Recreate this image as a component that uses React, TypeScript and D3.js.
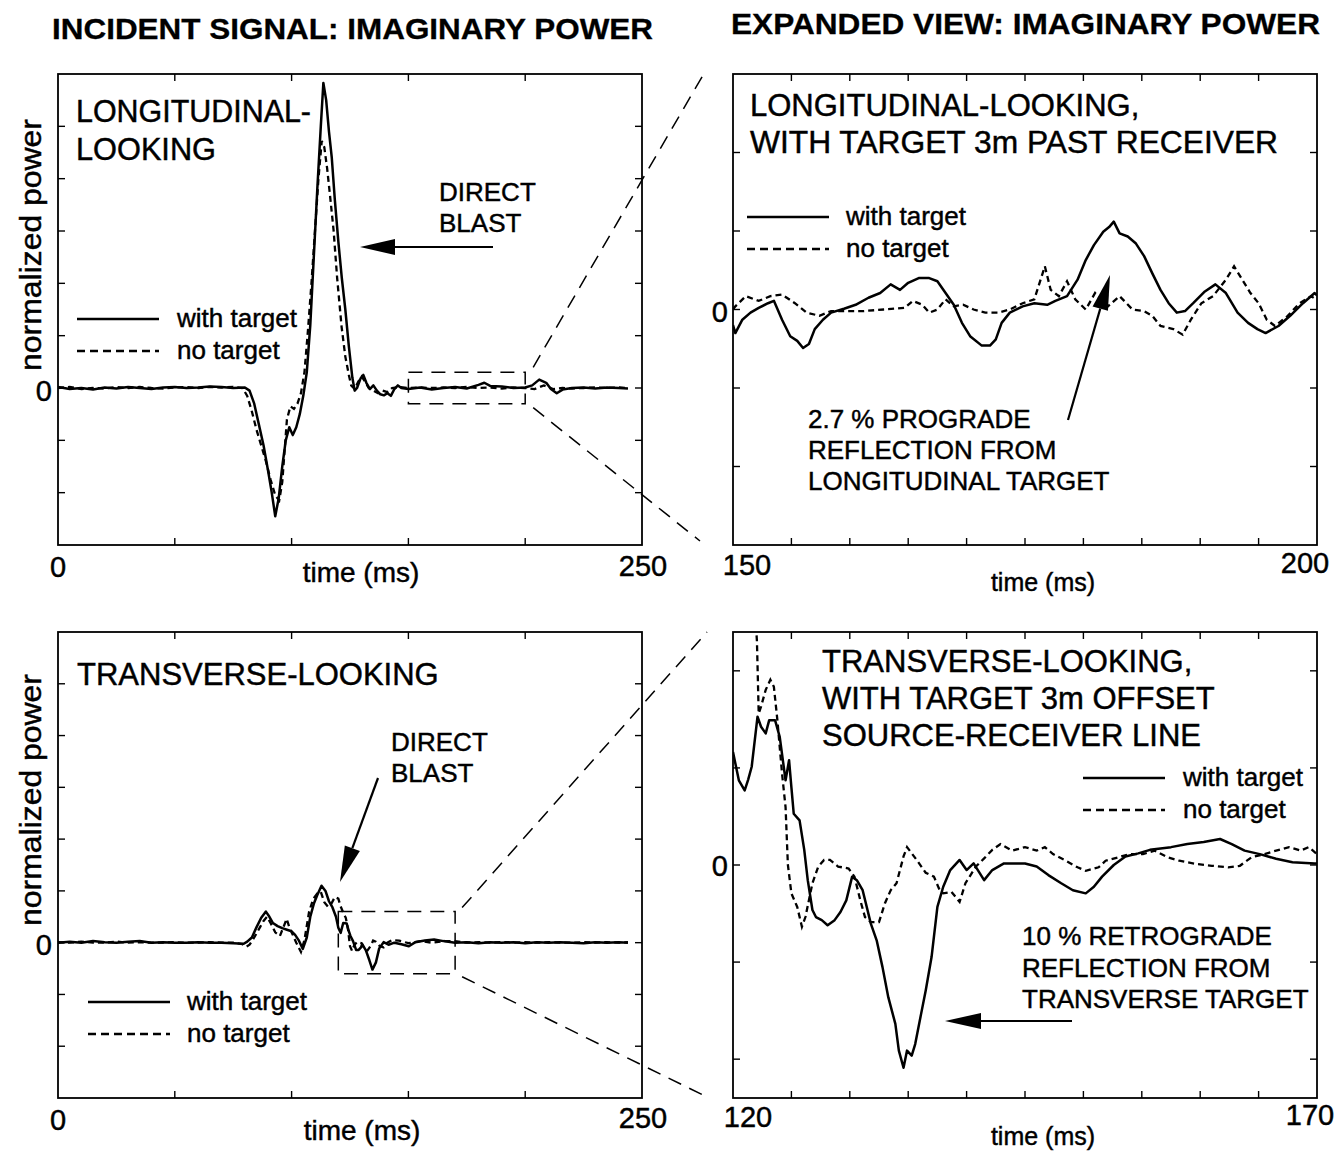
import React from 'react';
import * as d3 from 'd3';

const FONT = "'Liberation Sans', Arial, Helvetica, sans-serif";

// ---------- DATA (time ms, normalized power) ----------
const tlWithTarget: [number, number][] = [
  [0,0.02],[5,-0.02],[10,0.0],[15,-0.03],[20,0.01],[25,-0.01],[30,0.02],[35,0.0],[40,-0.02],[45,0.01],[50,0.02],[55,0.0],[60,0.01],[65,0.03],[70,0.02],[75,0.0],[80,0.01],
  [82,-0.05],[84,-0.3],[86,-0.7],[88,-1.1],[90,-1.6],[91.5,-2.0],[93,-2.45],[94.5,-2.1],[96,-1.5],[97.5,-1.0],[99,-0.75],[100.5,-0.9],[102,-0.75],[103.5,-0.5],[105,-0.15],[106.5,0.3],
  [108,1.2],[109.5,2.5],[111,3.8],[112.5,5.0],[113.6,5.83],[114.8,5.5],[116,4.9],[117.2,4.4],[118.5,3.6],[120,2.8],[121.5,2.1],[123,1.5],[124.5,0.8],[126,0.2],[127,-0.05],
  [128,0.0],[129.5,0.18],[130.7,0.25],[132,0.1],[133.5,-0.02],[135,0.05],[136.5,-0.05],[138,-0.12],[139.5,-0.14],[141,-0.1],[142.5,-0.15],[144,-0.02],[145.5,0.05],[147,0.0],
  [150,-0.02],[155,0.01],[160,-0.03],[165,0.0],[170,0.02],[175,-0.01],[180,0.06],[182.5,0.1],[185,0.04],[190,0.03],[195,0.0],[200,0.01],[203,0.05],[206,0.16],[209,0.1],
  [211,-0.02],[213.5,-0.1],[216,-0.03],[220,0.0],[225,0.01],[230,-0.01],[235,0.01],[240,0.0],[244,-0.01]
];
const tlNoTarget: [number, number][] = [
  [0,0.0],[5,0.02],[10,-0.02],[15,0.0],[20,-0.01],[25,0.02],[30,0.0],[35,0.02],[40,0.0],[45,-0.01],[50,0.01],[55,0.02],[60,0.0],[65,0.02],[70,0.01],[75,0.02],[79,0.0],
  [81,-0.15],[83,-0.45],[85,-0.8],[87,-1.1],[89,-1.4],[91,-1.75],[93,-2.05],[94.7,-2.15],[96,-1.8],[97,-1.2],[98,-0.6],[99.5,-0.35],[101,-0.4],[102.5,-0.3],[104,-0.1],
  [105.5,0.3],[107,1.1],[108.5,2.0],[110,3.0],[111.5,4.0],[112.9,4.72],[114,4.6],[115.2,4.2],[116.4,3.7],[118,3.0],[119.5,2.1],[121.4,1.17],[123,0.6],[124.5,0.25],[125.5,0.05],
  [127,-0.02],[128.5,0.12],[130,0.22],[131.5,0.12],[133,0.0],[135,-0.05],[137,-0.1],[139,-0.05],[141,-0.08],[143,0.0],[146,0.02],[150,0.0],[155,0.01],[160,0.0],[165,0.01],
  [170,0.0],[175,0.02],[180,0.0],[185,0.01],[190,-0.01],[195,0.01],[200,0.0],[204,-0.02],[208,0.05],[212,-0.02],[216,0.0],[220,-0.01],[225,0.0],[230,0.01],[235,0.0],[240,0.01],[244,0.0]
];

const trWithTarget: [number, number][] = [
  [150.0,-0.02],[150.2,-0.030],[150.8,-0.013],[151.5,-0.004],[152.2,0.002],[153.0,0.008],[153.5,0.011],[154.2,-0.013],[154.9,-0.034],[155.5,-0.04],[156.0,-0.049],[156.5,-0.044],
  [157.0,-0.025],[157.7,-0.013],[158.4,-0.004],[159.5,0.001],[160.5,0.006],[161.6,0.015],[162.6,0.021],[163.5,0.032],[164.3,0.025],[165.0,0.034],[165.9,0.040],[166.8,0.040],
  [167.5,0.036],[168.2,0.021],[168.9,0.006],[169.6,-0.017],[170.3,-0.034],[171.3,-0.046],[172.0,-0.046],[172.5,-0.038],[173.0,-0.017],[173.7,-0.004],[174.8,0.004],[175.8,0.008],
  [176.9,0.006],[177.6,0.011],[178.6,0.017],[179.5,0.038],[180.2,0.063],[180.9,0.082],[181.7,0.099],[182.2,0.105],[182.6,0.112],[183.1,0.097],[183.8,0.093],[184.5,0.084],
  [185.2,0.068],[185.9,0.046],[186.6,0.025],[187.3,0.008],[188.0,-0.004],[188.7,-0.002],[189.4,0.008],[190.4,0.023],[191.3,0.032],[192.2,0.021],[193.2,-0.004],[194.1,-0.017],
  [194.9,-0.025],[195.6,-0.030],[196.7,-0.021],[197.7,-0.008],[198.8,0.008],[199.8,0.021],[200,0.018]
];
const trNoTarget: [number, number][] = [
  [150.0,0.0],[150.2,0.004],[151.1,0.017],[152.2,0.011],[153.2,0.017],[154.2,0.019],[155.3,0.008],[156.3,-0.004],[157.4,-0.008],[158.4,-0.002],[159.5,-0.002],[161.2,-0.002],
  [162.9,0.000],[164.7,0.002],[165.4,0.011],[166.2,0.006],[166.8,-0.004],[167.5,0.000],[168.2,0.013],[168.9,0.004],[169.7,0.006],[170.6,0.000],[171.6,-0.004],[172.7,-0.004],
  [173.7,0.000],[174.8,0.008],[175.8,0.013],[176.7,0.055],[177.2,0.025],[177.9,0.017],[178.6,0.036],[179.3,0.013],[180.2,0.000],[181.0,0.021],[182.1,0.004],[183.1,0.017],
  [184.2,0.000],[185.2,-0.002],[185.9,-0.008],[186.6,-0.021],[187.7,-0.025],[188.5,-0.032],[189.2,-0.013],[190.1,0.008],[191.1,0.017],[192.2,0.038],[192.9,0.055],[193.6,0.038],
  [194.3,0.021],[195.0,0.008],[195.7,-0.013],[196.4,-0.021],[197.5,-0.008],[198.5,0.008],[199.5,0.017],[200,0.012]
];

const blWithTarget: [number, number][] = [
  [0,0.0],[5,0.02],[10,0.0],[15,0.03],[20,0.01],[25,0.0],[30,0.02],[35,0.03],[40,0.0],[45,0.01],[50,0.0],[55,0.0],[60,0.01],[65,0.0],[70,0.0],[75,-0.01],[79.5,-0.02],
  [81,0.02],[83,0.1],[85,0.3],[87,0.48],[89,0.6],[90.5,0.5],[92,0.38],[94,0.32],[96,0.28],[98,0.25],[100,0.22],[101.5,0.15],[103,0.05],[104.8,-0.12],[106.5,0.1],[108,0.5],
  [109.5,0.75],[111,0.92],[112.8,1.1],[114.5,1.0],[116,0.8],[117.5,0.68],[119,0.5],[120,0.29],[121,0.19],[122.1,0.38],[123.6,0.37],[124.5,0.22],[125.2,0.13],[126.3,0.03],
  [127.6,-0.14],[128.7,-0.14],[129.7,-0.09],[130.2,-0.03],[131.8,-0.15],[133.3,-0.34],[134.6,-0.52],[136.1,-0.38],[137.5,-0.11],[139.4,0.01],[141.5,-0.04],[144,0.0],
  [147,-0.03],[150.2,-0.07],[153,0.01],[157,0.04],[161,0.06],[165,0.03],[170,0.0],[175,0.01],[180,-0.01],[185,0.01],[190,0.0],[195,0.01],[200,-0.01],[205,0.01],[210,0.0],
  [215,0.01],[220,0.0],[225,-0.01],[230,0.01],[235,0.0],[240,0.01],[244,0.0]
];
const blNoTarget: [number, number][] = [
  [0,0.01],[5,0.0],[10,0.02],[15,0.0],[20,0.0],[25,0.02],[30,0.0],[35,0.01],[40,0.0],[45,0.0],[50,0.01],[55,0.0],[60,0.0],[65,0.01],[70,0.0],[75,0.0],[79,-0.03],
  [80.5,-0.08],[82,-0.04],[84,0.1],[86.5,0.3],[88,0.42],[89.5,0.5],[91,0.38],[93,0.2],[95,0.13],[96.5,0.3],[97.9,0.46],[99,0.3],[100.5,0.15],[102,0.0],[104,-0.18],
  [105.5,0.05],[107.5,0.6],[109.3,0.85],[111,0.95],[112.5,0.98],[114,0.78],[115.5,0.7],[117,0.75],[118.5,0.88],[120,0.85],[121,0.7],[122.1,0.58],[123.2,0.48],[124.2,0.24],
  [125,-0.07],[125.9,-0.16],[126.8,-0.05],[128,0.01],[130,-0.01],[131.3,-0.13],[132.5,-0.15],[134,-0.05],[134.9,0.04],[136,0.02],[137.7,-0.065],[139.4,-0.09],[141,0.0],
  [143,0.05],[146,0.04],[150,-0.01],[155,0.03],[160,0.0],[165,0.03],[170,0.03],[175,0.0],[180,0.01],[185,0.0],[190,0.01],[195,0.0],[200,0.01],[205,0.0],[210,0.01],
  [215,0.0],[220,0.0],[225,0.01],[230,0.0],[235,0.01],[240,0.0],[244,0.01]
];

const brWithTarget: [number, number][] = [
  [120,0.291],[120.5,0.218],[121.0,0.192],[121.3,0.22],[121.6,0.253],[122.1,0.382],[122.4,0.356],[122.8,0.339],[123.1,0.373],[123.6,0.373],[124.0,0.330],[124.5,0.218],
  [124.8,0.27],[125.0,0.2],[125.2,0.132],[125.7,0.115],[126.1,0.039],[126.4,-0.039],[126.8,-0.116],[127.1,-0.134],[127.6,-0.142],[128.1,-0.155],[128.7,-0.142],[129.2,-0.121],
  [129.7,-0.091],[130.2,-0.030],[130.6,-0.039],[131.1,-0.065],[131.8,-0.151],[132.3,-0.194],[132.8,-0.263],[133.3,-0.341],[133.9,-0.409],[134.2,-0.478],[134.6,-0.522],
  [134.9,-0.478],[135.3,-0.491],[135.6,-0.461],[136.1,-0.384],[136.5,-0.323],[137.0,-0.237],[137.5,-0.108],[138.0,-0.056],[138.6,-0.013],[139.4,0.013],[140.0,-0.013],
  [140.6,0.004],[141.5,-0.039],[142.2,-0.013],[143.2,0.004],[143.9,0.004],[145.0,0.004],[146.0,-0.004],[147.0,-0.026],[148.1,-0.047],[149.1,-0.065],[150.2,-0.073],
  [150.9,-0.056],[151.6,-0.030],[152.6,0.0],[153.6,0.022],[154.7,0.030],[155.7,0.039],[157.5,0.046],[158.9,0.054],[160.3,0.059],[161.7,0.067],[162.7,0.054],[163.8,0.037],
  [165.1,0.028],[166.5,0.016],[167.9,0.007],[169.8,0.004],[170,0.004]
];
const brNoTarget: [number, number][] = [
  [120,0.92],[121,0.8],[121.9,0.65],[122.05,0.576],[122.2,0.39],[122.4,0.408],[122.8,0.451],[123.2,0.477],[123.5,0.459],[123.8,0.373],[124.2,0.235],[124.5,0.149],
  [124.7,0.0],[125.0,-0.073],[125.5,-0.108],[125.9,-0.159],[126.2,-0.134],[126.8,-0.047],[127.3,-0.004],[127.8,0.013],[128.3,0.013],[129.0,-0.004],[129.9,-0.009],
  [130.4,-0.030],[130.9,-0.091],[131.3,-0.134],[131.8,-0.147],[132.5,-0.147],[133.0,-0.099],[133.5,-0.065],[134.0,-0.047],[134.6,0.022],[134.9,0.046],[135.3,0.03],
  [135.8,0.01],[136.5,-0.02],[137.2,-0.030],[137.7,-0.065],[138.0,-0.073],[138.7,-0.069],[139.4,-0.095],[139.9,-0.047],[140.8,-0.004],[141.5,0.017],[142.2,0.039],
  [142.9,0.054],[143.9,0.037],[145.0,0.046],[146.0,0.037],[146.7,0.046],[147.4,0.028],[148.5,0.011],[149.5,-0.006],[150.2,-0.015],[151.3,-0.006],[151.9,0.011],
  [153.0,0.020],[154.0,0.028],[155.1,0.028],[156.1,0.037],[157.2,0.020],[158.2,0.011],[159.6,0.003],[161.0,-0.002],[162.4,-0.006],[163.4,-0.002],[164.4,0.020],
  [165.5,0.028],[166.5,0.037],[167.6,0.046],[168.6,0.037],[169.3,0.046],[170,0.028]
];

// ---------- AXES ----------
const fullXDomain = [0, 250];
const fullYDomain = [-3, 6];
const fullXTicks = [0, 50, 100, 150, 200, 250];
const fullYTicks = [-3, -2, -1, 0, 1, 2, 3, 4, 5, 6];
const trXDomain = [150, 200];
const trYDomain = [-0.3, 0.3];
const trXTicks = [150, 155, 160, 165, 170, 175, 180, 185, 190, 195, 200];
const trYTicks = [-0.3, -0.2, -0.1, 0, 0.1, 0.2, 0.3];
const brXDomain = [120, 170];
const brYDomain = [-0.6, 0.6];
const brXTicks = [120, 125, 130, 135, 140, 145, 150, 155, 160, 165, 170];
const brYTicks = [-0.5, -0.25, 0, 0.25, 0.5];
const tlZoomWindow = { t0: 150, t1: 200, v: 0.3 };
const blZoomWindow = { t0: 120, t1: 170, v: 0.6 };

type Box = { x0: number; x1: number; y0: number; y1: number };
const BOX_TL: Box = { x0: 58, x1: 642, y0: 74, y1: 545 };
const BOX_TR: Box = { x0: 733, x1: 1317, y0: 74, y1: 545 };
const BOX_BL: Box = { x0: 58, x1: 642, y0: 632, y1: 1098 };
const BOX_BR: Box = { x0: 733, x1: 1317, y0: 632, y1: 1098 };

function scales(box: Box, xd: number[], yd: number[]) {
  const x = d3.scaleLinear().domain(xd).range([box.x0, box.x1]);
  const y = d3.scaleLinear().domain(yd).range([box.y1, box.y0]);
  return { x, y };
}

function T(props: any) {
  const { x, y, size = 26, anchor = 'start', weight = 'normal', len, children, transform } = props;
  return (
    <text x={x} y={y} fontSize={size} fontFamily={FONT} textAnchor={anchor} fontWeight={weight}
      fill="#000" stroke="#000" strokeWidth={weight === 'bold' ? 0.3 : 0.45} transform={transform}
      {...(len ? { textLength: len, lengthAdjust: 'spacingAndGlyphs' } : {})}>{children}</text>
  );
}

function Arrow({ x1, y1, x2, y2, head = 34, half = 8 }: any) {
  const dx = x2 - x1, dy = y2 - y1;
  const L = Math.hypot(dx, dy);
  const ux = dx / L, uy = dy / L;
  const bx = x2 - ux * head, by = y2 - uy * head;
  const nx = -uy, ny = ux;
  return (
    <g>
      <line x1={x1} y1={y1} x2={bx} y2={by} stroke="#000" strokeWidth={2.2} />
      <polygon points={`${x2},${y2} ${bx + nx * half},${by + ny * half} ${bx - nx * half},${by - ny * half}`} fill="#000" />
    </g>
  );
}

function Panel({ id, box, xd, yd, xt, yt, solid, dashed }: any) {
  const { x, y } = scales(box, xd, yd);
  const line = d3.line<[number, number]>().x(d => x(d[0])).y(d => y(d[1]));
  const tl = 7;
  const xIn = xt.filter((v: number) => v !== xd[0] && v !== xd[1]);
  const yIn = yt.filter((v: number) => v !== yd[0] && v !== yd[1]);
  return (
    <g>
      <defs>
        <clipPath id={id}><rect x={box.x0} y={box.y0} width={box.x1 - box.x0} height={box.y1 - box.y0} /></clipPath>
      </defs>
      <g clipPath={`url(#${id})`}>
        <path d={line(dashed) || ''} fill="none" stroke="#000" strokeWidth={2.3} strokeDasharray="6,4" />
        <path d={line(solid) || ''} fill="none" stroke="#000" strokeWidth={2.5} strokeLinejoin="round" />
      </g>
      <rect x={box.x0} y={box.y0} width={box.x1 - box.x0} height={box.y1 - box.y0} fill="none" stroke="#000" strokeWidth={1.8} />
      {xIn.map((v: number) => (
        <g key={'x' + v}>
          <line x1={x(v)} x2={x(v)} y1={box.y1} y2={box.y1 - tl} stroke="#000" strokeWidth={1.4} />
          <line x1={x(v)} x2={x(v)} y1={box.y0} y2={box.y0 + tl} stroke="#000" strokeWidth={1.4} />
        </g>
      ))}
      {yIn.map((v: number) => (
        <g key={'y' + v}>
          <line x1={box.x0} x2={box.x0 + tl} y1={y(v)} y2={y(v)} stroke="#000" strokeWidth={1.4} />
          <line x1={box.x1} x2={box.x1 - tl} y1={y(v)} y2={y(v)} stroke="#000" strokeWidth={1.4} />
        </g>
      ))}
    </g>
  );
}

function Legend({ x, y, textX }: any) {
  return (
    <g>
      <line x1={x} x2={x + 82} y1={y} y2={y} stroke="#000" strokeWidth={2.5} />
      <line x1={x} x2={x + 82} y1={y + 32} y2={y + 32} stroke="#000" strokeWidth={2.3} strokeDasharray="8,5" />
      <T x={textX} y={y + 8} size={26}>with target</T>
      <T x={textX} y={y + 40} size={26}>no target</T>
    </g>
  );
}

export default function App() {
  const tl = scales(BOX_TL, fullXDomain, fullYDomain);
  const bl = scales(BOX_BL, fullXDomain, fullYDomain);

  const tlBox = { x0: tl.x(tlZoomWindow.t0), x1: tl.x(tlZoomWindow.t1), y0: tl.y(tlZoomWindow.v), y1: tl.y(-tlZoomWindow.v) };
  const blBox = { x0: bl.x(blZoomWindow.t0), x1: bl.x(blZoomWindow.t1), y0: bl.y(blZoomWindow.v), y1: bl.y(-blZoomWindow.v) };
  const dash = { stroke: '#000', strokeWidth: 1.5, strokeDasharray: '14,9', fill: 'none' };

  return (
    <svg width={1338} height={1152} style={{ position: 'absolute', left: 0, top: 0, background: '#fff' }}>
      <rect x={0} y={0} width={1338} height={1152} fill="#fff" />
      {/* Titles */}
      <T x={52} y={39} size={30} weight="bold" len={601}>INCIDENT SIGNAL: IMAGINARY POWER</T>
      <T x={731} y={34} size={30} weight="bold" len={589}>EXPANDED VIEW: IMAGINARY POWER</T>

      {/* Top-left */}
      <Panel id="c1" box={BOX_TL} xd={fullXDomain} yd={fullYDomain} xt={fullXTicks} yt={fullYTicks} solid={tlWithTarget} dashed={tlNoTarget} />
      <rect x={tlBox.x0} y={tlBox.y0} width={tlBox.x1 - tlBox.x0} height={tlBox.y1 - tlBox.y0} {...dash} />
      <line x1={tlBox.x1 + 8} y1={tlBox.y0 - 5} x2={706} y2={70} {...dash} />
      <line x1={tlBox.x1 + 8} y1={tlBox.y1 + 4} x2={700} y2={541} {...dash} />
      <T x={76} y={122} size={31} len={235}>LONGITUDINAL-</T>
      <T x={76} y={160} size={31} len={140}>LOOKING</T>
      <T x={439} y={201} size={26}>DIRECT</T>
      <T x={439} y={232} size={26}>BLAST</T>
      <Arrow x1={493} y1={247} x2={360} y2={247} head={35} half={8} />
      <Legend x={77} y={319} textX={177} />
      <T x={52} y={401} size={29} anchor="end">0</T>
      <T x={tl.x(0)} y={577} size={29} anchor="middle">0</T>
      <T x={tl.x(250) + 1} y={576} size={29} anchor="middle">250</T>
      <T x={361} y={582} size={28} anchor="middle">time (ms)</T>
      <T x={0} y={0} size={30} anchor="middle" transform="translate(41,245) rotate(-90)" len={252}>normalized power</T>

      {/* Top-right */}
      <Panel id="c2" box={BOX_TR} xd={trXDomain} yd={trYDomain} xt={trXTicks} yt={trYTicks} solid={trWithTarget} dashed={trNoTarget} />
      <T x={750} y={116} size={31}>LONGITUDINAL-LOOKING,</T>
      <T x={750} y={153} size={31} len={528}>WITH TARGET 3m PAST RECEIVER</T>
      <Legend x={747} y={217} textX={846} />
      <T x={808} y={428} size={26}>2.7 % PROGRADE</T>
      <T x={808} y={459} size={26}>REFLECTION FROM</T>
      <T x={808} y={490} size={26}>LONGITUDINAL TARGET</T>
      <Arrow x1={1068} y1={420} x2={1110} y2={275} head={35} half={8} />
      <T x={728} y={322} size={29} anchor="end">0</T>
      <T x={747} y={575} size={29} anchor="middle">150</T>
      <T x={1305} y={573} size={29} anchor="middle">200</T>
      <T x={1043} y={591} size={25} anchor="middle">time (ms)</T>

      {/* Bottom-left */}
      <Panel id="c3" box={BOX_BL} xd={fullXDomain} yd={fullYDomain} xt={fullXTicks} yt={fullYTicks} solid={blWithTarget} dashed={blNoTarget} />
      <rect x={blBox.x0} y={blBox.y0} width={blBox.x1 - blBox.x0} height={blBox.y1 - blBox.y0} {...dash} />
      <line x1={blBox.x1 + 7} y1={blBox.y0 - 4} x2={707} y2={632} {...dash} />
      <line x1={blBox.x1 + 7} y1={blBox.y1 + 3} x2={707} y2={1097} {...dash} />
      <T x={77} y={685} size={31}>TRANSVERSE-LOOKING</T>
      <T x={391} y={751} size={26}>DIRECT</T>
      <T x={391} y={782} size={26}>BLAST</T>
      <Arrow x1={378} y1={778} x2={340} y2={882} head={36} half={8} />
      <Legend x={88} y={1002} textX={187} />
      <T x={52} y={955} size={29} anchor="end">0</T>
      <T x={bl.x(0)} y={1130} size={29} anchor="middle">0</T>
      <T x={bl.x(250) + 1} y={1128} size={29} anchor="middle">250</T>
      <T x={362} y={1140} size={28} anchor="middle">time (ms)</T>
      <T x={0} y={0} size={30} anchor="middle" transform="translate(41,800) rotate(-90)" len={252}>normalized power</T>

      {/* Bottom-right */}
      <Panel id="c4" box={BOX_BR} xd={brXDomain} yd={brYDomain} xt={brXTicks} yt={brYTicks} solid={brWithTarget} dashed={brNoTarget} />
      <T x={822} y={672} size={31}>TRANSVERSE-LOOKING,</T>
      <T x={822} y={709} size={31}>WITH TARGET 3m OFFSET</T>
      <T x={822} y={746} size={31}>SOURCE-RECEIVER LINE</T>
      <Legend x={1083} y={778} textX={1183} />
      <T x={1022} y={945} size={26}>10 % RETROGRADE</T>
      <T x={1022} y={977} size={26}>REFLECTION FROM</T>
      <T x={1022} y={1008} size={26}>TRANSVERSE TARGET</T>
      <Arrow x1={1072} y1={1021} x2={945} y2={1021} head={36} half={8} />
      <T x={728} y={876} size={29} anchor="end">0</T>
      <T x={748} y={1127} size={29} anchor="middle">120</T>
      <T x={1310} y={1125} size={29} anchor="middle">170</T>
      <T x={1043} y={1145} size={25} anchor="middle">time (ms)</T>
    </svg>
  );
}
